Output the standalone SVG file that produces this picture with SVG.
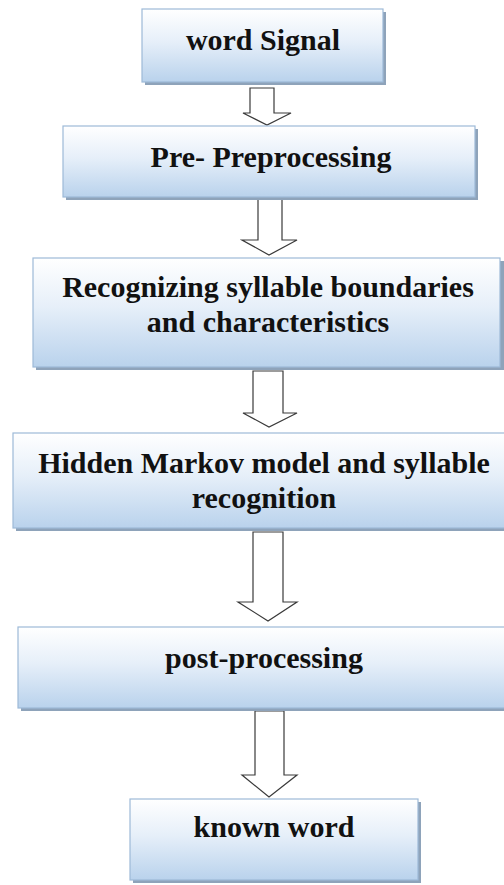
<svg xmlns="http://www.w3.org/2000/svg" width="504" height="885" viewBox="0 0 504 885">
<defs>
<linearGradient id="g" x1="0" y1="0" x2="0" y2="1">
<stop offset="0" stop-color="#ffffff"/>
<stop offset="0.45" stop-color="#e6eff9"/>
<stop offset="1" stop-color="#b9d2ec"/>
</linearGradient>
<style>
.box{fill:url(#g);stroke:#9dbad8;stroke-width:1.2}
.sh{fill:#8ea3ba}
.t{font-weight:bold;font-size:30px;fill:#111;text-anchor:middle}
.ar{fill:#ffffff;stroke:#3a3a3a;stroke-width:1.2;stroke-linejoin:miter}
</style>
</defs>
<rect width="504" height="885" fill="#ffffff"/>
<g id="connectors">
<path class="ar" d="M250,88 H274 V113 H291 L267,125 L243,113 H250 Z"/>
<path class="ar" d="M258,199 H282 V240 H297 L269,255 L242,240 H258 Z"/>
<path class="ar" d="M253,371 H283 V413 H297 L269,427 L243,413 H253 Z"/>
<path class="ar" d="M253,532 H283 V602 H297 L268,621 L238,602 H253 Z"/>
<path class="ar" d="M255,711 H284 V775 H297 L269,797 L242,775 H255 Z"/>
</g>
<g font-family="Liberation Serif, Times New Roman, serif">
<g id="n1">
<rect class="sh" x="145" y="12" width="241" height="73"/>
<rect class="box" x="142" y="9" width="241" height="73"/>
<text class="t" x="263" y="50">word Signal</text>
</g>
<g id="n2">
<rect class="sh" x="66" y="129" width="412" height="71"/>
<rect class="box" x="63" y="126" width="412" height="71"/>
<text class="t" x="271" y="167">Pre- Preprocessing</text>
</g>
<g id="n3">
<rect class="sh" x="36" y="261" width="470" height="109"/>
<rect class="box" x="33" y="258" width="467" height="109"/>
<text class="t" x="268" y="297">Recognizing syllable boundaries</text>
<text class="t" x="268" y="332">and characteristics</text>
</g>
<g id="n4">
<rect class="sh" x="16" y="436" width="492" height="95"/>
<rect class="box" x="13" y="433" width="495" height="95"/>
<text class="t" x="264" y="473">Hidden Markov model and syllable</text>
<text class="t" x="264" y="508">recognition</text>
</g>
<g id="n5">
<rect class="sh" x="21" y="630" width="486" height="81"/>
<rect class="box" x="18" y="627" width="490" height="81"/>
<text class="t" x="264" y="668">post-processing</text>
</g>
<g id="n6">
<rect class="sh" x="133" y="802" width="288" height="81"/>
<rect class="box" x="130" y="799" width="288" height="81"/>
<text class="t" x="274" y="837">known word</text>
</g>
</g>
</svg>
